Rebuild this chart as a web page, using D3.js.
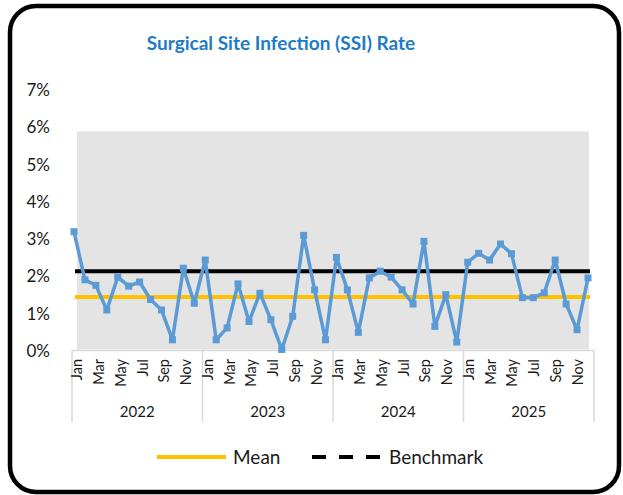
<!DOCTYPE html>
<html>
<head>
<meta charset="utf-8">
<script src="https://cdn.jsdelivr.net/npm/d3@7"></script>
<style>
    body { margin: 0; background: #fff; }
    text { font-family: Lato, "Open Sans", sans-serif; fill: #1a1a1a; }
</style>
</head>
<body>
<svg></svg>
<script>
const size = {w: 623, h: 495};
const plot = {l: 74, r: 588, t: 88.5, b: 349.5};
const svg = d3.select('svg');

svg.attr('width', size.w)
    .attr('height', size.h);

// data (percent)
const years = ['2022', '2023', '2024', '2025'];
const months = ['Jan', 'Feb', 'Mar', 'Apr', 'May', 'Jun', 'Jul', 'Aug', 'Sep', 'Oct', 'Nov', 'Dec'];
const ssiRate = [
    3.16, 1.87, 1.72, 1.06, 1.94, 1.70, 1.81, 1.34, 1.06, 0.26, 2.18, 1.24,
    2.40, 0.26, 0.58, 1.76, 0.75, 1.51, 0.80, 0.00, 0.89, 3.06, 1.60, 0.26,
    2.47, 1.60, 0.46, 1.92, 2.10, 1.94, 1.60, 1.22, 2.90, 0.62, 1.47, 0.20,
    2.34, 2.58, 2.40, 2.83, 2.57, 1.39, 1.39, 1.52, 2.40, 1.22, 0.53, 1.92
];
const meanRate = 1.41;
const benchmarkRate = 2.10;
const bandTop = 5.85;   // grey background band
const yTicks = [0, 1, 2, 3, 4, 5, 6, 7];

const periods = [];
years.forEach(y => months.forEach(m => periods.push(y + '-' + m)));

// frame
svg.append('rect')
    .attr('x', 10).attr('y', 6)
    .attr('width', 609).attr('height', 486)
    .attr('rx', 26)
    .attr('fill', '#fff')
    .attr('stroke', '#000')
    .attr('stroke-width', 4.5);

svg.append('text')
    .attr('x', 281).attr('y', 50)
    .attr('text-anchor', 'middle')
    .style('font-size', '19px')
    .style('font-weight', 'bold')
    .style('fill', '#1E7BC6')
    .text('Surgical Site Infection (SSI) Rate');

let y = d3.scaleLinear().domain([0, 7]).range([plot.b, plot.t]);
let x = d3.scalePoint().domain(periods).range([plot.l, plot.r]);
let xBand = d3.scaleBand().domain(periods).range([72, 594]);

// grey band
svg.append('rect')
    .attr('x', x(periods[0]) + 3)
    .attr('y', y(bandTop))
    .attr('width', x(periods[periods.length - 1]) - x(periods[0]) - 2)
    .attr('height', y(0) - y(bandTop))
    .attr('fill', '#e4e4e4');

// y axis labels
let yAxis = d3.axisLeft(y).tickValues(yTicks).tickFormat(d => d + '%').tickSize(0).tickPadding(0);
let yG = svg.append('g')
    .attr('transform', 'translate(50,1.5)')
    .call(yAxis);
yG.select('.domain').remove();
yG.selectAll('text')
    .style('font-size', '17px')
    .style('font-family', 'Lato, sans-serif')
    .attr('fill', '#1a1a1a');

// multi-level category axis
let axisG = svg.append('g').attr('class', 'xaxis');
axisG.append('line')
    .attr('x1', xBand.range()[0]).attr('x2', xBand.range()[1])
    .attr('y1', plot.b + 1).attr('y2', plot.b + 1)
    .attr('stroke', '#d9d9d9').attr('stroke-width', 1.5);

let yearEdges = years.map((yr, i) => xBand(yr + '-Jan'));
yearEdges.push(xBand.range()[1]);
axisG.selectAll('line.sep')
    .data(yearEdges)
    .enter()
    .append('line')
    .attr('class', 'sep')
    .attr('x1', d => d).attr('x2', d => d)
    .attr('y1', plot.b + 1).attr('y2', 422)
    .attr('stroke', '#d9d9d9').attr('stroke-width', 1.5);

axisG.selectAll('text.month')
    .data(periods.filter((p, i) => i % 2 === 0))
    .enter()
    .append('text')
    .attr('class', 'month')
    .attr('transform', d => 'translate(' + (xBand(d) + xBand.bandwidth() / 2 + 5) + ',359) rotate(-90)')
    .attr('text-anchor', 'end')
    .style('font-size', '14.5px')
    .text(d => d.split('-')[1]);

axisG.selectAll('text.year')
    .data(years)
    .enter()
    .append('text')
    .attr('class', 'year')
    .attr('x', d => xBand(d + '-Jan') + xBand.bandwidth() * 6)
    .attr('y', 417)
    .attr('text-anchor', 'middle')
    .style('font-size', '15px')
    .text(d => d);

// reference lines
let x0 = x(periods[0]) + 1, x1 = x(periods[periods.length - 1]) + 2;
svg.append('line')
    .attr('x1', x0).attr('x2', x1)
    .attr('y1', y(meanRate)).attr('y2', y(meanRate))
    .attr('stroke', '#FFC000').attr('stroke-width', 4);
svg.append('line')
    .attr('x1', x0).attr('x2', x1)
    .attr('y1', y(benchmarkRate)).attr('y2', y(benchmarkRate))
    .attr('stroke', '#000').attr('stroke-width', 4);

// SSI series
let line = d3.line()
    .x((d, i) => x(periods[i]))
    .y(d => y(d));

svg.append('path')
    .datum(ssiRate)
    .attr('d', line)
    .attr('fill', 'none')
    .attr('stroke', '#5B9BD5')
    .attr('stroke-width', 3.5)
    .attr('stroke-linejoin', 'round');

svg.selectAll('rect.pt')
    .data(ssiRate)
    .enter()
    .append('rect')
    .attr('class', 'pt')
    .attr('x', (d, i) => x(periods[i]) - 3.5)
    .attr('y', d => y(d) - 3.5)
    .attr('width', 7).attr('height', 7)
    .attr('fill', '#5B9BD5');

// legend
let legG = svg.append('g');
legG.append('line')
    .attr('x1', 157).attr('x2', 226).attr('y1', 457).attr('y2', 457)
    .attr('stroke', '#FFC000').attr('stroke-width', 4);
legG.append('text')
    .attr('x', 233).attr('y', 464)
    .style('font-size', '19px')
    .text('Mean');
legG.append('line')
    .attr('x1', 312).attr('x2', 382).attr('y1', 457).attr('y2', 457)
    .attr('stroke', '#000').attr('stroke-width', 4)
    .attr('stroke-dasharray', '14,13');
legG.append('text')
    .attr('x', 389).attr('y', 464)
    .style('font-size', '19px')
    .text('Benchmark');
</script>
</body>
</html>
